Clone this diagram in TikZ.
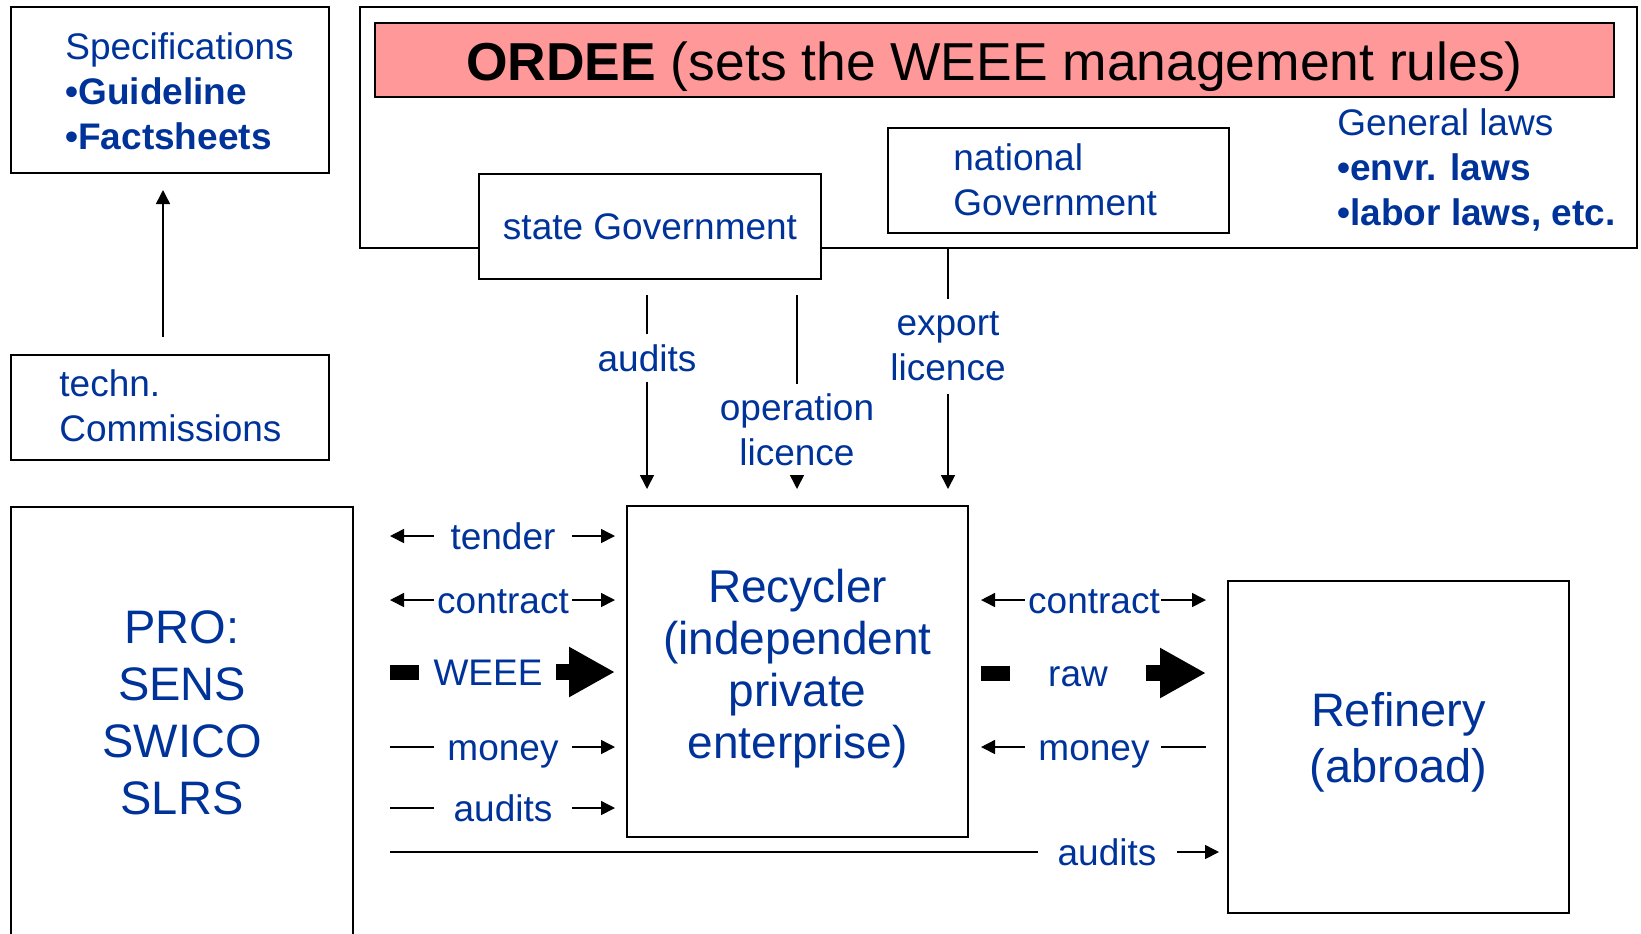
\documentclass[tikz,border=0pt]{standalone}
\usepackage{fontspec}
\setmainfont{Liberation Sans}
\usetikzlibrary{arrows.meta, positioning}
\definecolor{txtblue}{RGB}{0,51,153}
\definecolor{rulepink}{RGB}{255,153,153}
\tikzset{
	box/.style={draw, line width=1pt, fill=white, inner sep=0pt},
	lbl/.style={text=txtblue, font=\fontsize{18.5}{22.5}\selectfont, inner sep=0pt},
	tag/.style={lbl, text height=13.2pt, text depth=0pt},
	big/.style={text=txtblue, font=\fontsize{23.5}{27.5}\selectfont, align=center},
	arr/.style={line width=0.75pt, -{Triangle[length=7pt,width=7pt]}},
	plain/.style={line width=0.75pt},
	flow/.style={line width=8pt, -{Triangle[length=23pt,width=23.5pt]}},
	bar/.style={line width=7.5pt}
}

\begin{document}
\begin{tikzpicture}[x=0.5pt, y=-0.5pt]
	\useasboundingbox (0,0) rectangle (1641,933);
	
	% left column
	\node[box, minimum width=158.75pt, minimum height=83pt] (spec) at (170,90) {};
	\node[lbl, align=left, anchor=west] (specTxt) at (65,91) {Specifications\\\textbf{•Guideline}\\\textbf{•Factsheets}};
	\node[box, minimum width=158.75pt, minimum height=52.5pt] (techn) at (170,407.5) {};
	\node[lbl, align=left, anchor=west] (technTxt) at (59,406) {techn.\\Commissions};
	\draw[arr] ([xshift=-3.5pt, yshift=8.5pt]techn.north) -- ([xshift=-3.5pt, yshift=-8pt]spec.south);
	
	% ORDEE frame
	\node[box, minimum width=638.5pt, minimum height=120.5pt] (laws) at (998.5,127.5) {};
	\node[box, fill=rulepink, minimum width=619.5pt, minimum height=37pt, font=\fontsize{26.7}{30}\selectfont, text height=20pt, text depth=0pt] (ordee) at (994.5,60) {\textbf{ORDEE} (sets the WEEE management rules)};
	\node[box, tag, minimum width=171pt, minimum height=52.5pt] (stateGov) at (650,226) {state Government};
	\node[box, minimum width=170.5pt, minimum height=52.5pt] (natGov) at (1058.5,180.5) {};
	\node[lbl, align=left, anchor=west] (natTxt) at (953,180) {national\\Government};
	\node[lbl, align=left, anchor=west] (genLaws) at (1337,170) {General laws\\\textbf{•envr. laws}\\\textbf{•labor laws, etc.}};
	
	% actors
	\node[box, anchor=north, minimum width=170.75pt, minimum height=240pt] (pro) at (182,505.5) {};
	\node[big, font=\fontsize{23.5}{28.5}\selectfont] (proTxt) at (182,713) {PRO:\\SENS\\SWICO\\SLRS};
	\node[box, minimum width=170.5pt, minimum height=165.5pt] (recycler) at (797.5,671.5) {};
	\node[big, font=\fontsize{23}{26}\selectfont] (recTxt) at (797.5,668.5) {Recycler\\(independent\\private\\enterprise)};
	\node[box, minimum width=170.5pt, minimum height=166pt] (refinery) at (1398.5,747) {};
	\node[big, font=\fontsize{23.5}{28}\selectfont] (refTxt) at (1398.5,742.5) {Refinery\\(abroad)};
	
	% state control
	\coordinate (v0) at (0,295);
	\coordinate (v1) at (0,489);
	\node[tag] (audV) at (647,358) {audits};
	\node[lbl, align=center] (opL) at (797,430) {operation\\licence};
	\node[lbl, align=center] (expL) at (948,346.5) {export\\licence};
	\draw[plain] (v0 -| audV) -- ([yshift=5pt]audV.north);
	\draw[arr] ([yshift=-5pt]audV.south) -- (v1 -| audV);
	\draw[plain] (v0 -| opL) -- ([yshift=5pt]opL.north);
	\draw[arr] ([yshift=-5pt]opL.south) -- (v1 -| opL);
	\draw[plain] (laws.south -| expL) -- ([yshift=6pt]expL.north);
	\draw[arr] ([yshift=-6pt]expL.south) -- (v1 -| expL);
	
	% PRO <-> recycler
	\coordinate (a0) at (390,0); \coordinate (a1) at (434,0);
	\coordinate (a2) at (572,0); \coordinate (a3) at (615,0);
	\foreach \y/\txt/\lft in {536/tender/arr, 600/contract/arr, 747/money/plain, 808/audits/plain}{
		\node[tag] (l\txt) at (503,\y) {\txt};
		\draw[\lft] (a1 |- l\txt) -- (a0 |- l\txt);
		\draw[arr] (a2 |- l\txt) -- (a3 |- l\txt);
	}
	\node[tag] (weee) at (488,672) {WEEE};
	\draw[bar] (a0 |- weee) -- ++(29,0);
	\draw[flow] ([xshift=-29.5pt]a3 |- weee) -- (a3 |- weee);
	
	% recycler <-> refinery
	\coordinate (b0) at (981,0); \coordinate (b1) at (1025,0);
	\coordinate (b2) at (1161,0); \coordinate (b3) at (1206,0);
	\foreach \y/\txt in {600/contract, 747/money}{
		\node[tag] (r\txt) at (1094,\y) {\txt};
		\draw[arr] (b1 |- r\txt) -- (b0 |- r\txt);
	}
	\draw[arr] (b2 |- rcontract) -- (b3 |- rcontract);
	\draw[plain] (b2 |- rmoney) -- (b3 |- rmoney);
	\node[tag] (raw) at (1078,673) {raw};
	\draw[bar] (b0 |- raw) -- ++(29,0);
	\draw[flow] ([xshift=-30pt]b3 |- raw) -- (b3 |- raw);
	
	% audits of the refinery
	\node[tag] (audB) at (1107,852) {audits};
	\draw[plain] (a0 |- audB) -- ([xshift=-9.5pt]audB.west);
	\draw[arr] ([xshift=10pt]audB.east) -- ([xshift=-4pt]refinery.west |- audB);
\end{tikzpicture}
\end{document}
